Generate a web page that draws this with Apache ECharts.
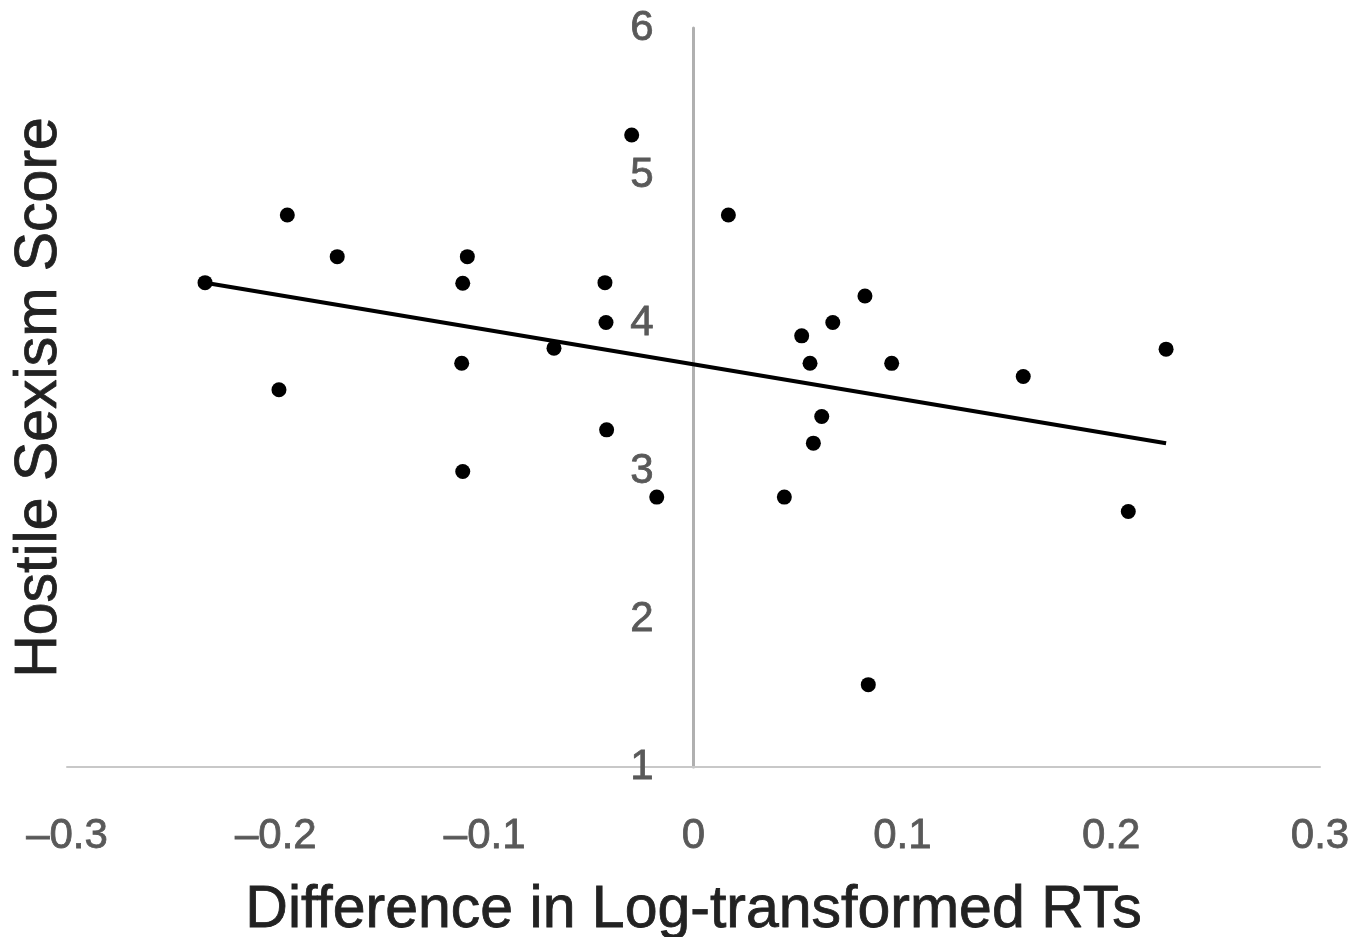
<!DOCTYPE html>
<html>
<head>
<meta charset="utf-8">
<script src="https://cdn.jsdelivr.net/npm/echarts@6/dist/echarts.min.js"></script>
<style>
html,body{margin:0;padding:0;background:#fff;}
#chart{width:1369px;height:937px;}
</style>
</head>
<body>
<div id="chart"></div>
<script>
// Data
var diffRT = [-0.2339, -0.1945, -0.1706, -0.1985, -0.1083, -0.1105, -0.1110, -0.1105, -0.0668,
              -0.0424, -0.0419, -0.0416, -0.0296, -0.0176, 0.0167, 0.0435, 0.0518, 0.0558,
              0.0667, 0.0821, 0.0614, 0.0574, 0.0949, 0.0837, 0.1579, 0.2082, 0.2263];
var hostileSexism = [4.277, 4.735, 4.453, 3.552, 4.453, 4.273, 3.732, 2.999, 3.834,
                     4.277, 4.007, 3.281, 5.276, 2.826, 4.735, 2.826, 3.917, 3.732,
                     4.007, 4.187, 3.371, 3.191, 3.731, 1.557, 3.642, 2.729, 3.827];
var fitLineX = [-0.2339, 0.2263];
var fitLineY = [4.277, 3.191];
var xTicks = [-0.3, -0.2, -0.1, 0, 0.1, 0.2, 0.3];
var xTickLabels = ['\u20130.3', '\u20130.2', '\u20130.1', '0', '0.1', '0.2', '0.3'];
var yTickLabels = ['1', '2', '3', '4', '5', '6'];
var xTitle = 'Difference in Log-transformed RTs';
var yTitle = 'Hostile Sexism Score';

var scatterData = diffRT.map(function (x, i) { return [x, hostileSexism[i]]; });
var lineData = fitLineX.map(function (x, i) { return [x, fitLineY[i]]; });

function xLabel(v) {
  var best = 0, bd = Infinity;
  for (var i = 0; i < xTicks.length; i++) {
    var d = Math.abs(xTicks[i] - v);
    if (d < bd) { bd = d; best = i; }
  }
  return xTickLabels[best];
}
function yLabel(v) {
  var idx = Math.round(v) - 1;
  return yTickLabels[idx] !== undefined ? yTickLabels[idx] : String(v);
}

var GRID_LEFT = 67, GRID_RIGHT = 49;
var W = 1369;
// y axis sits at x = 0, i.e. the middle of the x range
var yAxisOffset = -((W - GRID_LEFT - GRID_RIGHT) / 2);

var FONT = 'Liberation Sans, Arial, sans-serif';
var titleStyle = {fontFamily: FONT, fontSize: 59, color: '#222222',
                  textBorderColor: '#222222', textBorderWidth: 0.8};
var tickStyle = {fontFamily: FONT, fontSize: 42, color: '#595959',
                 textBorderColor: '#595959', textBorderWidth: 0.8};

var chart = echarts.init(document.getElementById('chart'), null, {renderer: 'canvas'});
chart.setOption({
  backgroundColor: '#ffffff',
  animation: false,
  grid: {left: GRID_LEFT, right: GRID_RIGHT, top: 28, bottom: 170, containLabel: false, outerBoundsMode: 'none'},
  xAxis: {
    type: 'value', min: -0.3, max: 0.3, interval: 0.1,
    name: xTitle, nameLocation: 'middle', nameGap: 114,
    nameTextStyle: titleStyle,
    axisLine: {show: true, onZero: false, lineStyle: {color: '#c8c8c8', width: 2}},
    axisTick: {show: false},
    splitLine: {show: false},
    axisLabel: Object.assign({formatter: xLabel, margin: 48}, tickStyle)
  },
  yAxis: {
    type: 'value', min: 1, max: 6, interval: 1, position: 'left', offset: yAxisOffset,
    name: yTitle, nameLocation: 'middle', nameGap: 624, nameRotate: 90,
    nameTextStyle: titleStyle,
    axisLine: {show: true, onZero: false, lineStyle: {color: '#b0b0b0', width: 3}},
    axisTick: {show: false},
    splitLine: {show: false},
    axisLabel: Object.assign({formatter: yLabel, margin: 40}, tickStyle)
  },
  series: [
    {
      type: 'line', data: lineData, symbol: 'none', silent: true,
      lineStyle: {color: '#000000', width: 4}, z: 2
    },
    {
      type: 'scatter', data: scatterData, symbol: 'circle', symbolSize: 15,
      itemStyle: {color: '#000000', opacity: 1}, z: 3
    }
  ]
});
</script>
</body>
</html>
